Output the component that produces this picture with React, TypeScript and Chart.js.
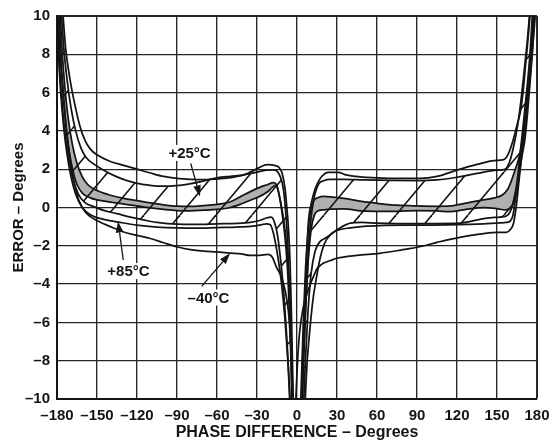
import React, { useEffect, useRef } from 'react';
import { Chart, registerables } from 'chart.js';

Chart.register(...registerables);

type Pt = [number, number];

const xTickValues = [-180, -150, -120, -90, -60, -30, 0, 30, 60, 90, 120, 150, 180];
const yTickValues = [-10, -8, -6, -4, -2, 0, 2, 4, 6, 8, 10];

// ---- left branch curves (phase < 0) ----
const curveA_L: Pt[] = [[-176,10.5],[-173.5,8.3],[-170.5,6.8],[-167,5.5],[-163,4.3],[-159,3.5],[-155,3.05],[-150,2.75],[-140,2.4],[-130,2.2],[-120,2.0],[-110,1.8],[-100,1.62],[-90,1.52],[-80,1.47],[-70,1.45],[-60,1.5],[-50,1.56],[-40,1.7],[-32,1.95],[-26,2.17],[-22,2.24],[-17,2.2],[-13,2.05],[-11,1.75],[-9,1.0],[-7.5,-0.1],[-6.3,-1.2],[-5.2,-2.9],[-4.2,-5.5],[-3.2,-8.8],[-2.7,-10.6]];
const curveB_L: Pt[] = [[-177,10.5],[-175,8.4],[-172.5,6.7],[-169.5,5.2],[-166,4.0],[-162,3.1],[-158,2.6],[-152,2.25],[-145,1.95],[-135,1.6],[-125,1.35],[-115,1.2],[-105,1.12],[-95,1.12],[-85,1.18],[-72,1.35],[-60,1.55],[-50,1.63],[-40,1.7],[-30,1.85],[-23,1.95],[-18,1.97],[-15,1.9],[-12.5,1.6],[-10.3,1.0],[-8.5,-0.2],[-7,-1.8],[-5.7,-4.2],[-4.6,-7],[-3.7,-10.6]];
const curveC_L: Pt[] = [[-178,10.5],[-176,8],[-174,6.2],[-171.5,4.6],[-168.5,3.3],[-165,2.3],[-161,1.6],[-157,1.2],[-152,0.95],[-145,0.75],[-140,0.64],[-130,0.48],[-120,0.36],[-110,0.24],[-100,0.14],[-90,0.07],[-80,0.06],[-70,0.1],[-60,0.16],[-50,0.3],[-42,0.58],[-35,0.83],[-28,1.05],[-22,1.2],[-18,1.3],[-15.5,1.2],[-13.5,0.7],[-11.5,0.0],[-9.5,-0.9],[-8,-1.8],[-6.6,-3.1],[-5.2,-5.5],[-4.1,-8],[-3.2,-10.6]];
const curveD_L: Pt[] = [[-179,10.5],[-177.5,8],[-175.5,6],[-173.5,4.4],[-171,3.0],[-168,1.9],[-165,1.2],[-161,0.75],[-155,0.5],[-150,0.4],[-140,0.28],[-130,0.18],[-120,0.08],[-110,-0.02],[-100,-0.1],[-90,-0.16],[-80,-0.17],[-70,-0.14],[-60,-0.1],[-50,0.0],[-42,0.18],[-35,0.38],[-28,0.58],[-22,0.82],[-18.5,1.05],[-16,1.15],[-14,0.85],[-12,0.1],[-10,-0.9],[-8.3,-2.1],[-6.8,-3.6],[-5.4,-6],[-4.3,-8.5],[-3.5,-10.6]];
const curveE_L: Pt[] = [[-179.5,10.5],[-178.5,8],[-176.8,6],[-174.5,4.2],[-171.5,2.7],[-168,1.5],[-164,0.7],[-159,0.25],[-152.5,0.05],[-145,-0.15],[-135,-0.32],[-125,-0.5],[-115,-0.65],[-105,-0.78],[-90,-0.87],[-75,-0.88],[-60,-0.85],[-45,-0.83],[-35,-0.78],[-28,-0.68],[-23,-0.55],[-19.5,-0.5],[-17,-0.75],[-14.5,-1.5],[-12.5,-2.6],[-10.5,-4],[-8.6,-5.8],[-6.8,-7.9],[-5.2,-10.6]];
const curveF_L: Pt[] = [[-179.8,10.5],[-178.8,8],[-177.2,6],[-175,4.2],[-172.5,2.8],[-169.5,1.6],[-166,0.7],[-161,0.0],[-155,-0.38],[-145,-0.62],[-134,-0.76],[-120,-0.92],[-105,-1.02],[-90,-1.07],[-75,-1.08],[-60,-1.05],[-45,-1.02],[-35,-0.98],[-28,-0.92],[-23,-0.85],[-20,-0.9],[-17.5,-1.4],[-15,-2.3],[-12.8,-3.3],[-10.5,-4.7],[-8.3,-6.5],[-6.3,-8.6],[-4.7,-10.6]];
const curveG_L: Pt[] = [[-178.7,10.5],[-177.3,8],[-175.3,6],[-172.8,4],[-170.3,2.6],[-167.3,1.35],[-163.5,0.35],[-158,-0.3],[-150,-0.68],[-140,-1.0],[-130,-1.28],[-120,-1.46],[-110,-1.62],[-100,-1.84],[-90,-2.05],[-80,-2.2],[-70,-2.28],[-60,-2.32],[-50,-2.38],[-42,-2.42],[-35,-2.5],[-28,-2.5],[-22,-2.45],[-18.5,-2.6],[-15.5,-3.1],[-12.5,-3.5],[-9,-4.3],[-6.5,-5.4],[-4.8,-7],[-3.5,-9],[-2.6,-10.6]];

// ---- right branch curves (phase > 0) ----
const curveA_R: Pt[] = [[3.2,-10.6],[4.2,-8],[5.5,-5.5],[6.8,-3.3],[8.5,-0.83],[11,0.3],[13.5,0.95],[16,1.35],[18.5,1.62],[23.5,1.84],[31,1.84],[36,1.72],[43.5,1.62],[60,1.55],[75,1.52],[92,1.52],[105,1.62],[120,1.95],[135,2.25],[148,2.45],[155,2.5],[158.5,2.8],[162,3.5],[165,4.3],[167.5,5.0],[169.5,6.0],[171.5,7.5],[173.5,9.0],[175.5,10.6]];
const curveB_R: Pt[] = [[3.8,-10.6],[5,-8],[6.5,-5.3],[8.2,-2.8],[10,-0.9],[12.5,0.4],[16,1.2],[20,1.4],[25,1.47],[35,1.47],[50,1.44],[70,1.41],[90,1.4],[105,1.44],[120,1.58],[135,1.78],[150,1.95],[156,2.0],[159.5,2.4],[162.5,3.2],[165.5,4.3],[168,5.6],[170.5,7.2],[173,8.9],[175,10.6]];
const curveC_R: Pt[] = [[2.6,-10.6],[3.8,-8],[5,-5.5],[6.4,-3.2],[8,-1.5],[10,-0.2],[12.5,0.35],[16,0.52],[20,0.58],[25,0.56],[30,0.52],[40,0.43],[48.5,0.32],[60,0.22],[75,0.12],[90,0.08],[105,0.06],[115,0.08],[125,0.2],[138.5,0.39],[148,0.5],[154,0.65],[158,0.95],[161,1.44],[163.5,1.95],[166,2.48],[168,3.1],[170,4.0],[172,5.2],[174,6.7],[176,8.5],[177.8,10.6]];
const curveD_R: Pt[] = [[3.6,-10.6],[4.8,-8],[6.2,-5.6],[8,-3.2],[10.5,-1.2],[13,-0.4],[16,-0.17],[20,-0.12],[25,-0.08],[35,-0.07],[48,-0.18],[60,-0.2],[75,-0.2],[90,-0.16],[105,-0.18],[115,-0.22],[125,-0.12],[140,0.0],[150,-0.06],[156,-0.13],[159.5,-0.05],[161.5,0.1],[163.5,0.7],[166,1.5],[168.5,2.6],[171,3.6],[173,5.0],[175,6.7],[177,8.6],[178.6,10.6]];
const curveE_R: Pt[] = [[4.8,-10.6],[6.3,-8],[8.2,-5.5],[10.5,-3.5],[13.5,-2.3],[17,-1.8],[20,-1.65],[23.5,-1.5],[31,-1.12],[40,-0.82],[48.5,-0.78],[60,-0.82],[75,-0.84],[90,-0.84],[105,-0.84],[122,-0.82],[132,-0.7],[140,-0.58],[148,-0.52],[155,-0.48],[158,-0.4],[160,-0.2],[162,0.2],[163.5,0.6],[165.5,1.6],[167.5,2.9],[169.5,4.2],[172,5.9],[174.5,7.8],[177,10.6]];
const curveF_R: Pt[] = [[5.8,-10.6],[7.5,-8.2],[9.75,-6.3],[12,-4.8],[14.75,-3.6],[17.5,-2.6],[20.5,-1.9],[25,-1.42],[30,-1.2],[40,-1.06],[50,-0.98],[62,-0.94],[90,-0.92],[120,-0.9],[140,-0.85],[152,-0.8],[157,-0.78],[160,-0.7],[162,-0.4],[163.5,0.3],[165.5,1.2],[168,2.7],[170.5,4.3],[173,6.2],[175.5,8.2],[177.6,10.6]];
const curveG_R: Pt[] = [[-1.2,-10.6],[0.2,-8.3],[2,-6.5],[4.75,-5.2],[7.5,-4.5],[10,-4.0],[12.25,-3.62],[15,-3.2],[18,-3.0],[20,-2.9],[25,-2.77],[30,-2.65],[45,-2.5],[62,-2.39],[78,-2.22],[92,-2.05],[105,-1.82],[112,-1.7],[125,-1.52],[140,-1.36],[150,-1.3],[157,-1.3],[160,-1.15],[162.3,-0.85],[164.5,0.1],[166.5,1.4],[169,3.0],[171.5,4.5],[173.8,6.1],[176,7.8],[178,9.4],[179.2,10.6]];

// temperature call-outs: label centre, arrow tail, arrow tip (data units)
const calloutText = ['+25°C', '+85°C', '–40°C'];
const calloutLabelAt: Pt[] = [[-80.6, 2.85], [-126.4, -3.32], [-66.4, -4.7]];
const calloutTail: Pt[] = [[-79.7, 2.3], [-130.3, -2.74], [-71.5, -4.12]];
const calloutTip: Pt[] = [[-72.75, 0.58], [-134.2, -0.73], [-50.2, -2.39]];

const FONT = '"Liberation Sans", Arial, Helvetica, sans-serif';
const INK = '#141414';

function fmt(v: number): string {
  return v < 0 ? '–' + Math.abs(v) : String(v);
}

function makeHatch(): CanvasPattern | string {
  const P = 36, H = 43;
  const c = document.createElement('canvas');
  c.width = P; c.height = H;
  const g = c.getContext('2d');
  if (!g) return 'rgba(0,0,0,0)';
  g.strokeStyle = INK;
  g.lineWidth = 1.6;
  for (const k of [-1, 0, 1]) {
    g.beginPath();
    g.moveTo(k * P, H);
    g.lineTo(k * P + P, 0);
    g.stroke();
  }
  return g.createPattern(c, 'repeat') || 'rgba(0,0,0,0)';
}

const calloutPlugin = {
  id: 'calloutPlugin',
  afterDatasetsDraw(chart: any) {
    const { ctx, scales } = chart;
    const xs = scales.x, ys = scales.y;
    ctx.save();
    ctx.font = `bold 15px ${FONT}`;
    ctx.textAlign = 'center';
    ctx.textBaseline = 'middle';
    calloutText.forEach((t, i) => {
      const lx = xs.getPixelForValue(calloutLabelAt[i][0]);
      const ly = ys.getPixelForValue(calloutLabelAt[i][1]);
      const w = ctx.measureText(t).width;
      ctx.fillStyle = '#ffffff';
      ctx.fillRect(lx - w / 2 - 2, ly - 8, w + 4, 16);
      ctx.fillStyle = INK;
      ctx.fillText(t, lx, ly + 1);
      const x0 = xs.getPixelForValue(calloutTail[i][0]);
      const y0 = ys.getPixelForValue(calloutTail[i][1]);
      const x1 = xs.getPixelForValue(calloutTip[i][0]);
      const y1 = ys.getPixelForValue(calloutTip[i][1]);
      const ang = Math.atan2(y1 - y0, x1 - x0);
      const L = 11, W = 3.8;
      const bx = x1 - L * Math.cos(ang), by = y1 - L * Math.sin(ang);
      ctx.strokeStyle = INK;
      ctx.lineWidth = 1.3;
      ctx.beginPath();
      ctx.moveTo(x0, y0);
      ctx.lineTo(bx, by);
      ctx.stroke();
      ctx.beginPath();
      ctx.moveTo(x1, y1);
      ctx.lineTo(bx + W * Math.sin(ang), by - W * Math.cos(ang));
      ctx.lineTo(bx - W * Math.sin(ang), by + W * Math.cos(ang));
      ctx.closePath();
      ctx.fill();
    });
    ctx.restore();
  },
};

export default function App() {
  const ref = useRef<HTMLCanvasElement>(null);

  useEffect(() => {
    const canvas = ref.current;
    if (!canvas) return;
    const hatch = makeHatch();
    const line = (pts: Pt[], extra: any = {}) => ({
      data: pts.map(([x, y]) => ({ x, y })),
      borderColor: INK,
      borderWidth: 1.75,
      pointRadius: 0,
      fill: false,
      cubicInterpolationMode: 'monotone',
      ...extra,
    });
    const datasets = [
      line(curveA_L),
      line(curveB_L, { fill: 4, backgroundColor: hatch }),
      line(curveC_L, { fill: 3, backgroundColor: '#b0b0b0' }),
      line(curveD_L),
      line(curveE_L),
      line(curveF_L),
      line(curveG_L),
      line(curveA_R),
      line(curveB_R, { fill: 11, backgroundColor: hatch }),
      line(curveC_R, { fill: 10, backgroundColor: '#b0b0b0' }),
      line(curveD_R),
      line(curveE_R),
      line(curveF_R),
      line(curveG_R),
    ];
    const edgeWidth = (edgeVals: number[]) => (c: any) =>
      c.tick && edgeVals.includes(c.tick.value) ? 2 : 1.35;

    const chart = new Chart(canvas, {
      type: 'line',
      data: { datasets } as any,
      plugins: [calloutPlugin],
      options: {
        responsive: false,
        devicePixelRatio: 1,
        animation: false,
        events: [],
        layout: { padding: { top: 16, right: 22, left: 0, bottom: 0 } },
        plugins: {
          legend: { display: false },
          tooltip: { enabled: false },
          filler: { propagate: false, drawTime: 'beforeDatasetsDraw' },
        } as any,
        scales: {
          x: {
            type: 'linear',
            min: -180,
            max: 180,
            afterBuildTicks: (s: any) => { s.ticks = xTickValues.map((v) => ({ value: v })); },
            afterFit: (s: any) => { s.height = 47; },
            ticks: {
              color: INK,
              padding: 8,
              maxRotation: 0,
              autoSkip: false,
              font: { family: FONT, size: 15, weight: 'bold' },
              callback: (v: any) => fmt(Number(v)),
            },
            grid: { color: '#262626', lineWidth: edgeWidth([180]), drawTicks: false },
            border: { color: INK, width: 2 },
            title: {
              display: true,
              text: 'PHASE DIFFERENCE – Degrees',
              color: INK,
              font: { family: FONT, size: 16, weight: 'bold' },
              padding: { top: 0, bottom: 4 },
            },
          },
          y: {
            type: 'linear',
            min: -10,
            max: 10,
            afterBuildTicks: (s: any) => { s.ticks = yTickValues.map((v) => ({ value: v })); },
            afterFit: (s: any) => { s.width = 57; },
            ticks: {
              color: INK,
              padding: 7,
              autoSkip: false,
              font: { family: FONT, size: 15, weight: 'bold' },
              callback: (v: any) => fmt(Number(v)),
            },
            grid: { color: '#262626', lineWidth: edgeWidth([10]), drawTicks: false },
            border: { color: INK, width: 2 },
            title: {
              display: true,
              text: 'ERROR – Degrees',
              color: INK,
              font: { family: FONT, size: 15, weight: 'bold' },
              padding: { top: 10, bottom: 0 },
            },
          },
        },
      } as any,
    });
    return () => chart.destroy();
  }, []);

  return (
    <div style={{ position: 'fixed', left: 0, top: 0, width: 559, height: 446, background: '#ffffff' }}>
      <canvas ref={ref} width={559} height={446} style={{ display: 'block', width: 559, height: 446 }} />
    </div>
  );
}
